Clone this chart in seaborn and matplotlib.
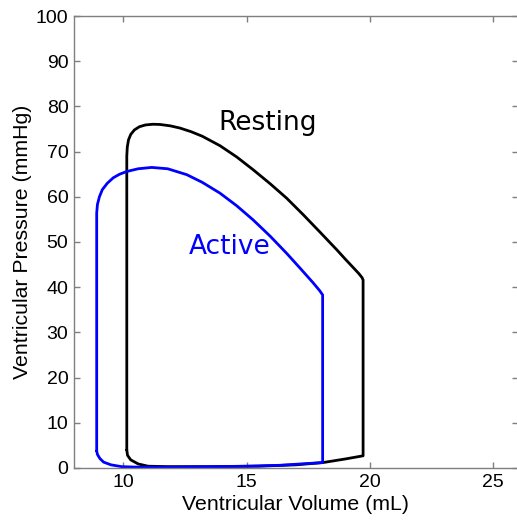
import matplotlib
matplotlib.use("Agg")
import matplotlib.pyplot as plt
import seaborn as sns
import pandas as pd

# Resting PV loop
resting_volume = [10.14, 10.14, 10.16, 10.21, 10.3, 10.45, 10.65, 10.9, 11.2, 11.49, 11.9, 12.3,
                  12.75, 13.2, 13.92, 14.6, 15.26, 15.95, 16.62, 17.3, 17.97, 18.65, 19.0,
                  19.31, 19.55, 19.68, 19.72, 19.72, 19.0, 18.09, 17.0, 15.5, 13.5, 11.8,
                  11.0, 10.6, 10.3, 10.17, 10.14]
resting_pressure = [4.0, 69.0, 71.0, 72.6, 73.8, 74.8, 75.5, 75.9, 76.05, 76.0, 75.7, 75.2,
                    74.4, 73.4, 71.3, 68.8, 66.0, 62.9, 59.7, 56.0, 52.2, 48.3, 46.2,
                    44.4, 43.0, 42.1, 41.6, 2.7, 2.0, 1.2, 0.7, 0.4, 0.3, 0.3,
                    0.4, 0.9, 1.8, 2.8, 4.0]

# Active PV loop
active_volume = [8.92, 8.92, 8.95, 9.03, 9.15, 9.35, 9.59, 9.85, 10.14, 10.6, 11.15, 11.8,
                 12.57, 13.2, 13.92, 14.6, 15.26, 15.95, 16.62, 17.2, 17.69, 17.95, 18.08,
                 18.08, 17.2, 16.35, 15.0, 13.63, 12.0, 10.5, 9.93, 9.5, 9.2, 9.05, 8.95, 8.92]
active_pressure = [3.8, 56.4, 58.3, 60.0, 61.6, 63.0, 64.2, 65.0, 65.6, 66.2, 66.5, 66.2,
                   64.9, 63.2, 60.8, 58.0, 54.9, 51.3, 47.5, 44.0, 41.0, 39.3, 38.3,
                   1.2, 0.9, 0.6, 0.4, 0.3, 0.2, 0.2, 0.3, 0.7, 1.3, 2.1, 3.0, 3.8]

x_ticks = [10, 15, 20, 25]
y_ticks = [0, 10, 20, 30, 40, 50, 60, 70, 80, 90, 100]

sns.set_theme(style="white")
plt.rcParams["font.family"] = ["Liberation Sans", "DejaVu Sans"]

fig = plt.figure(figsize=(5.17, 5.23), dpi=100)
ax = fig.add_axes([74 / 517, 55 / 523, 444 / 517, 452 / 523])

df_r = pd.DataFrame({"Volume": resting_volume, "Pressure": resting_pressure})
df_a = pd.DataFrame({"Volume": active_volume, "Pressure": active_pressure})

sns.lineplot(data=df_r, x="Volume", y="Pressure", sort=False, estimator=None,
             color="black", linewidth=2.0, ax=ax)
sns.lineplot(data=df_a, x="Volume", y="Pressure", sort=False, estimator=None,
             color="#0000ff", linewidth=2.0, ax=ax)
for line in ax.get_lines():
    line.set_solid_joinstyle("round")

ax.set_xlim(8, 26)
ax.set_ylim(0, 100)
ax.set_xticks(x_ticks)
ax.set_yticks(y_ticks)
ax.set_xticklabels([str(t) for t in x_ticks])
ax.set_yticklabels([str(t) for t in y_ticks])

spine_color = "#7f7f7f"
for side in ["left", "bottom", "top", "right"]:
    ax.spines[side].set_color(spine_color)
    ax.spines[side].set_linewidth(1.0)
ax.spines["right"].set_visible(False)

ax.tick_params(axis="both", which="major", direction="in", length=4, width=1.0,
               color=spine_color, labelsize=14, labelcolor="black",
               top=True, right=True, bottom=True, left=True, pad=4)

ax.set_xlabel("Ventricular Volume (mL)", fontsize=15.3, color="black", labelpad=3)
ax.set_ylabel("Ventricular Pressure (mmHg)", fontsize=15.3, color="black", labelpad=3)

ax.text(15.86, 76.3, "Resting", fontsize=19, color="black", ha="center", va="center",
        family=["DejaVu Sans"])
ax.text(14.32, 48.9, "Active", fontsize=19, color="#0000ff", ha="center", va="center",
        family=["DejaVu Sans"])

fig.savefig("out.png", dpi=100, facecolor="white")
